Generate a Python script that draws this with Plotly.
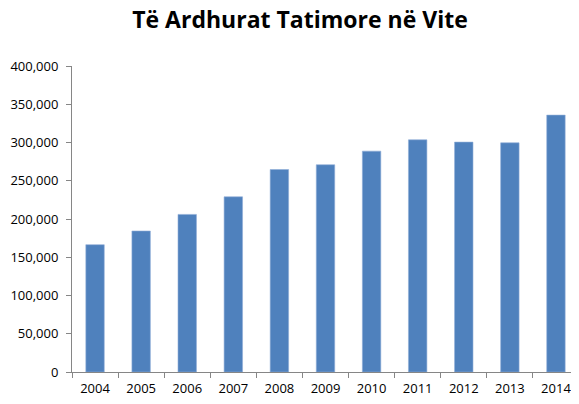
import plotly.graph_objects as go

years = ["2004", "2005", "2006", "2007", "2008", "2009", "2010", "2011", "2012", "2013", "2014"]
revenues = [166400, 184300, 206000, 229000, 264700, 270900, 288700, 303500, 300500, 299600, 335800]

fig = go.Figure(go.Bar(
    x=years, y=revenues,
    marker=dict(color="#4F81BD", line=dict(color="#8EADD6", width=0.6)),
))

# page body has an 8px default margin, so the figure is sized to fit
fig.update_layout(
    width=571, height=396,
    paper_bgcolor="white", plot_bgcolor="white",
    margin=dict(l=64, r=0, t=58, b=31.5),
    bargap=0.6,
    showlegend=False,
    title=dict(text="<b>Të Ardhurat Tatimore në Vite</b>", x=(300 - 8) / 571, xanchor="center",
               y=1 - 12 / 396, yanchor="middle",
               font=dict(family="Open Sans, sans-serif", size=23, color="black")),
    font=dict(family="Open Sans, sans-serif", size=13, color="black"),
)
fig.update_yaxes(range=[0, 400000], dtick=50000, tickformat=",", showgrid=False,
                 showline=True, linecolor="#868686", linewidth=1,
                 ticks="outside", ticklen=5, tickcolor="#868686", zeroline=False,
                 ticklabelstandoff=5, automargin=False)
fig.update_xaxes(showline=True, linecolor="#868686", linewidth=1, showgrid=False,
                 ticks="outside", ticklen=5, tickcolor="#868686", tickson="boundaries",
                 ticklabelstandoff=4, automargin=False)

fig.write_html("out.html")
